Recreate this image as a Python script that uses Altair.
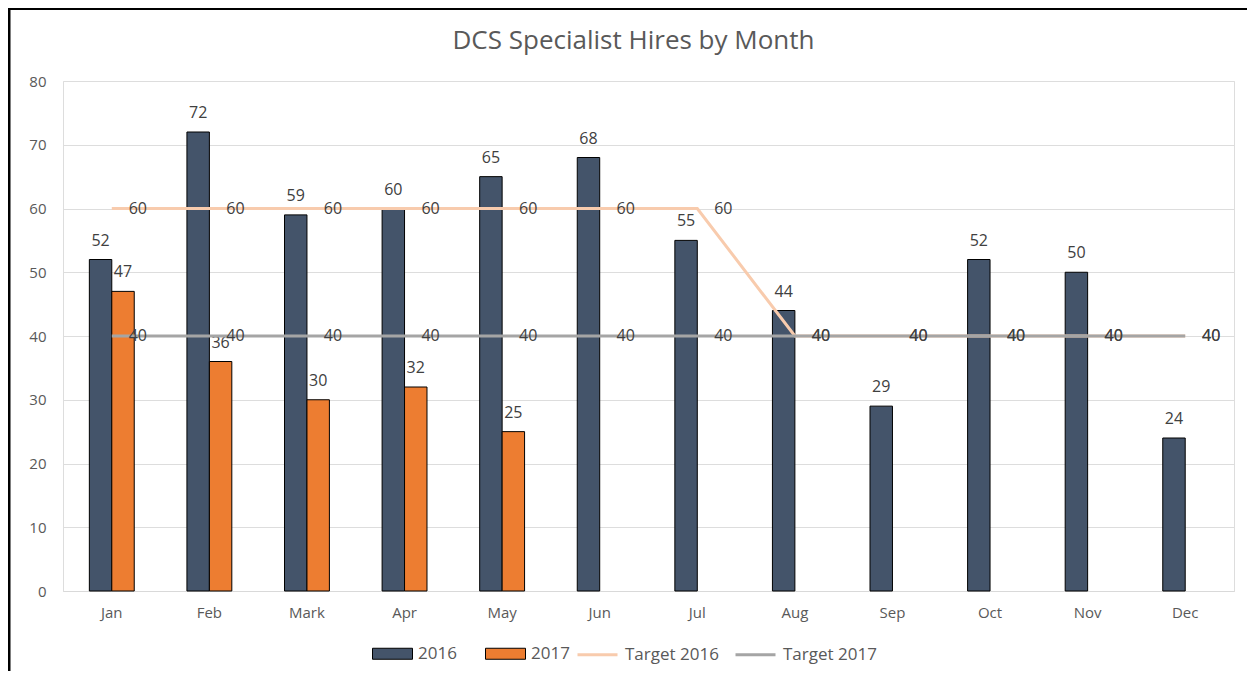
import altair as alt
import pandas as pd

chart_title = "DCS Specialist Hires by Month"
months = ["Jan", "Feb", "Mark", "Apr", "May", "Jun", "Jul", "Aug", "Sep", "Oct", "Nov", "Dec"]
hires_2016 = [52, 72, 59, 60, 65, 68, 55, 44, 29, 52, 50, 24]
hires_2017 = [47, 36, 30, 32, 25, None, None, None, None, None, None, None]
target_2016 = [60, 60, 60, 60, 60, 60, 60, 40, 40, 40, 40, 40]
target_2017 = [40, 40, 40, 40, 40, 40, 40, 40, 40, 40, 40, 40]
bar_series = ["2016", "2017"]
line_series = ["Target 2016", "Target 2017"]
y_ticks = [0, 10, 20, 30, 40, 50, 60, 70, 80]

FONT = "Open Sans"

bar_rows = []
for m, v in zip(months, hires_2016):
    bar_rows.append({"month": m, "series": "2016", "value": v})
for m, v in zip(months, hires_2017):
    if v is not None:
        bar_rows.append({"month": m, "series": "2017", "value": v})
bars_df = pd.DataFrame(bar_rows)

line_rows = []
for i, (m, v) in enumerate(zip(months, target_2016)):
    line_rows.append({"month": m, "series": "Target 2016", "value": v, "idx": i})
for i, (m, v) in enumerate(zip(months, target_2017)):
    line_rows.append({"month": m, "series": "Target 2017", "value": v, "idx": i})
lines_df = pd.DataFrame(line_rows)

x_enc = alt.X(
    "month:N",
    sort=months,
    scale=alt.Scale(domain=months, paddingInner=0.54, paddingOuter=0.27),
    axis=alt.Axis(title=None, labelAngle=0, ticks=False, domain=True, domainColor="#D9D9D9",
                  labelPadding=14, labelColor="#595959", labelFontSize=15, labelFont=FONT, grid=False),
)
y_enc = alt.Y(
    "value:Q",
    scale=alt.Scale(domain=[0, 80], nice=False),
    axis=alt.Axis(title=None, values=y_ticks, ticks=False, domain=False, grid=True,
                  gridColor="#DDDDDD", labelPadding=17, labelColor="#595959",
                  labelFontSize=15, labelFont=FONT),
)
xoff = alt.XOffset("series:N", scale=alt.Scale(domain=bar_series))

bars = alt.Chart(bars_df).mark_bar(stroke="black", strokeWidth=1).encode(
    x=x_enc,
    y=y_enc,
    xOffset=xoff,
    fill=alt.Fill(
        "series:N",
        scale=alt.Scale(domain=bar_series, range=["#44546A", "#ED7D31"]),
        legend=alt.Legend(
            title=None, orient="none", direction="horizontal", legendX=309, legendY=552,
            symbolType="M-1,-0.275H1V0.275H-1Z", symbolSize=1600, symbolStrokeColor="black",
            symbolStrokeWidth=1, labelFontSize=17, labelFont=FONT, labelColor="#595959",
            labelOffset=5, columnPadding=26, symbolOpacity=1,
        ),
    ),
)

bar_labels = alt.Chart(bars_df).mark_text(
    dy=-19, baseline="middle", align="center", fontSize=16, font=FONT, color="#404040"
).encode(x=x_enc, y=y_enc, xOffset=xoff, text="value:Q")

lines = alt.Chart(lines_df).mark_line(strokeWidth=3).encode(
    x=x_enc,
    y=y_enc,
    order="idx:Q",
    stroke=alt.Stroke(
        "series:N",
        scale=alt.Scale(domain=line_series, range=["#F8CBAD", "#A5A5A5"]),
        legend=alt.Legend(
            title=None, orient="none", direction="horizontal", legendX=513, legendY=552,
            symbolType="stroke", symbolSize=1600, symbolStrokeWidth=3,
            labelFontSize=17, labelFont=FONT, labelColor="#595959",
            labelOffset=6, columnPadding=10,
        ),
    ),
)

line_labels = alt.Chart(lines_df).mark_text(
    dx=26, baseline="middle", align="center", fontSize=16, font=FONT, color="#404040"
).encode(x=x_enc, y=y_enc, text="value:Q", detail="series:N")

title_mark = alt.Chart(alt.Data(values=[{"t": chart_title}])).mark_text(
    fontSize=26, font=FONT, color="#595959", align="center", baseline="middle"
).encode(text="t:N", x=alt.value(570.5), y=alt.value(-40))

border_data = alt.Data(values=[{"k": 1}])
border_top = alt.Chart(border_data).mark_rule(color="black", strokeWidth=3).encode(
    x=alt.value(-54), x2=alt.value(1190), y=alt.value(-72.5)
)
border_left = alt.Chart(border_data).mark_rule(color="black", strokeWidth=3).encode(
    x=alt.value(-54), y=alt.value(-74), y2=alt.value(600)
)

chart = alt.layer(
    bars, bar_labels, lines, line_labels, title_mark, border_top, border_left
).properties(
    width=1171,
    height=510,
    autosize=alt.AutoSizeParams(type="none"),
    padding={"left": 55, "top": 73, "right": 13, "bottom": 80},
).configure_view(stroke=None).configure(background="white")

chart.save("out.html", embed_options={"renderer": "svg", "actions": False})
